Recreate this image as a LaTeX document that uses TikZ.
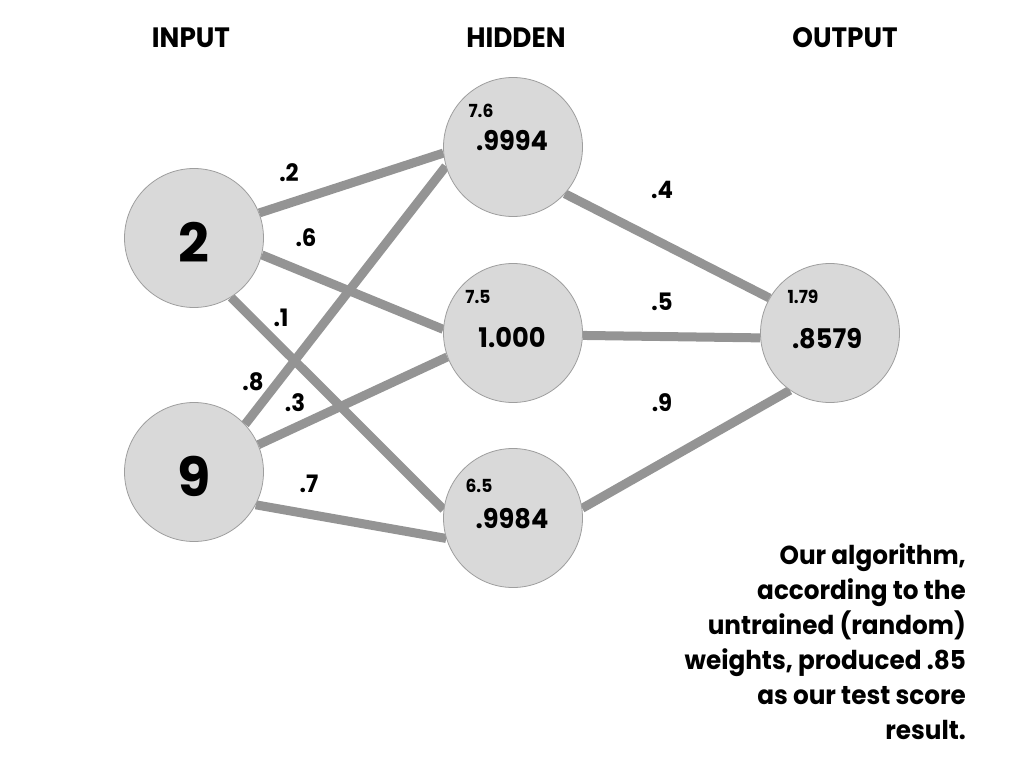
\documentclass[tikz,border=0pt]{standalone}
\usepackage{fontspec}
\setmainfont{Poppins}
\newfontfamily\headfont[FakeStretch=0.94]{Poppins}
\newfontfamily\medfont[FakeStretch=0.95]{Poppins}
\newfontfamily\numfont[FakeStretch=0.95]{Poppins}
\pgfdeclarelayer{back}
\pgfsetlayers{back,main}
\begin{document}
\begin{tikzpicture}[x=1pt,y=-1pt,
  neuron/.style={circle,draw=black!38,line width=0.8pt,fill=black!15,minimum size=139pt,inner sep=0pt},
  wire/.style={draw=black!42,line width=9pt},
  wlabel/.style={font=\numfont\fontsize{24}{24}\selectfont\bfseries,inner sep=0pt},
  head/.style={font=\headfont\fontsize{28}{28}\selectfont\bfseries,inner sep=0pt},
  val/.style={font=\medfont\fontsize{27}{27}\selectfont\bfseries,inner sep=0pt},
  sval/.style={font=\medfont\fontsize{18}{18}\selectfont\bfseries,inner sep=0pt},
  big/.style={font=\fontsize{54}{54}\selectfont\bfseries,inner sep=0pt}]
\useasboundingbox (0,0) rectangle (1024,768);
\node[head] (hin) at (191,38) {INPUT};
\node[head] (hhid) at (516,38) {HIDDEN};
\node[head] (hout) at (845,38) {OUTPUT};
\node[neuron] (i1) at (194,238) {};
\node[neuron] (i2) at (194,472) {};
\node[neuron] (h1) at (513,147) {};
\node[neuron] (h2) at (513,333) {};
\node[neuron] (h3) at (513,518) {};
\node[neuron] (o) at (830,333) {};
\begin{pgfonlayer}{back}
\draw[wire] (i1.21) -- (h1.185);
\draw[wire] (i1.-14) -- (h2.177);
\draw[wire] (i1.-58) -- (h3.173);
\draw[wire] (i2.43) -- (h1.196);
\draw[wire] (i2.23) -- (h2.200);
\draw[wire] (i2.-28) -- (h3.197);
\draw[wire] (h1.-42) -- (o.150);
\draw[wire] (h2.-2) -- (o.184);
\draw[wire] (h3.8) -- (o.235);
\end{pgfonlayer}
\node[big] (t1) at (194,242) {2};
\node[big] (t2) at (194,476) {9};
\node[sval] (s1) at (481,111) {7.6};
\node[val] (v1) at (512,141) {.9994};
\node[sval] (s2) at (478,297) {7.5};
\node[val] (v2) at (512,338) {1.000};
\node[sval] (s3) at (479,486) {6.5};
\node[val] (v3) at (512,519) {.9984};
\node[sval] (s4) at (803,297) {1.79};
\node[val] (v4) at (827,339) {.8579};
\node[wlabel] (w1) at (289,173) {.2};
\node[wlabel] (w2) at (306,238) {.6};
\node[wlabel] (w3) at (281,318) {.1};
\node[wlabel] (w4) at (253,382) {.8};
\node[wlabel] (w5) at (295,403) {.3};
\node[wlabel] (w6) at (309,484) {.7};
\node[wlabel] (w7) at (662,190) {.4};
\node[wlabel] (w8) at (662,302) {.5};
\node[wlabel] (w9) at (662,403) {.9};
\node[anchor=north east,align=right,inner sep=0pt,font=\medfont\fontsize{26}{35}\selectfont\bfseries] (note) at (966,543)
  {Our algorithm,\\according to the\\untrained (random)\\weights, produced .85\\as our test score\\result.};
\end{tikzpicture}
\end{document}
